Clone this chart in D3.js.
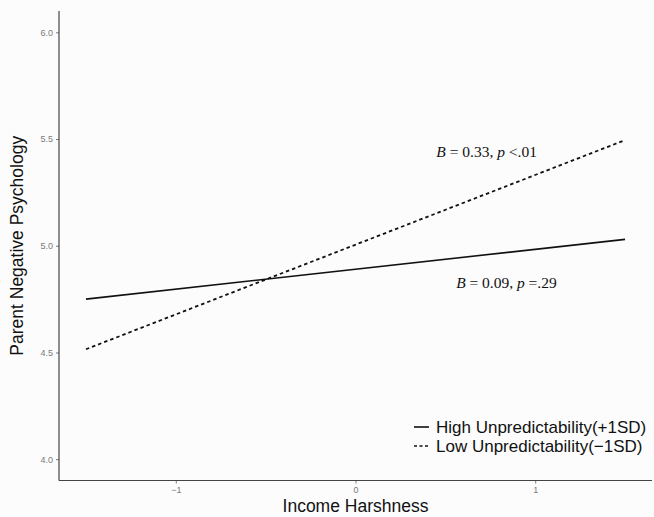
<!DOCTYPE html>
<html>
<head>
<meta charset="utf-8">
<script src="https://cdn.jsdelivr.net/npm/d3@7"></script>
<style>
  body { margin: 0; background: #fcfcfc; }
  svg { display: block; }
  .tick text { fill: #7a7a7a; font-family: "Liberation Sans", Arial, sans-serif; font-size: 9px; }
  .tick line { stroke: #7a7a7a; }
</style>
</head>
<body>
<div id="container"></div>
<script>
// data
var xTicks = [-1, 0, 1];
var yTicks = [4.0, 4.5, 5.0, 5.5, 6.0];
var harshness = [-1.5, 1.5];
var highUnpred = [4.75, 5.03];   // +1SD
var lowUnpred = [4.515, 5.495];  // -1SD
var seriesNames = ["High Unpredictability(+1SD)", "Low Unpredictability(\u22121SD)"];
var notes = [
  {b: "0.33", p: "<.01", x: 0.45, y: 5.415},
  {b: "0.09", p: "=.29", x: 0.56, y: 4.80}
];

var width = 654, height = 517;
var m = {left: 59, right: 652, top: 11, bottom: 480.5};

var svg = d3.select("#container").append("svg")
  .attr("width", width)
  .attr("height", height);

svg.append("rect").attr("width", width).attr("height", height).attr("fill", "#fcfcfc");

var x = d3.scaleLinear().domain([-1.65, 1.65]).range([m.left, m.right]);
var y = d3.scaleLinear().domain([3.9, 6.1]).range([m.bottom, m.top]);

/* axes */
var xAxis = svg.append("g")
  .attr("transform", "translate(0," + m.bottom + ")")
  .call(d3.axisBottom(x).tickValues(xTicks).tickSize(3).tickPadding(3)
    .tickFormat(function(d) { return d < 0 ? "\u2212" + Math.abs(d) : d; }));
var yAxis = svg.append("g")
  .attr("transform", "translate(" + m.left + ",0)")
  .call(d3.axisLeft(y).tickValues(yTicks).tickSize(3).tickPadding(3).tickFormat(d3.format(".1f")));
xAxis.select(".domain").remove();
yAxis.select(".domain").remove();

svg.append("line")
  .attr("x1", m.left).attr("x2", m.right)
  .attr("y1", m.bottom).attr("y2", m.bottom)
  .attr("stroke", "#444").attr("stroke-width", 1.2);
svg.append("line")
  .attr("x1", m.left).attr("x2", m.left)
  .attr("y1", m.top).attr("y2", m.bottom)
  .attr("stroke", "#444").attr("stroke-width", 1.2);

/* lines */
var line = d3.line()
  .x(function(d) { return x(d[0]); })
  .y(function(d) { return y(d[1]); });

svg.append("path")
  .datum(d3.zip(harshness, highUnpred))
  .attr("d", line)
  .attr("fill", "none")
  .attr("stroke", "#111")
  .attr("stroke-width", 1.6);

svg.append("path")
  .datum(d3.zip(harshness, lowUnpred))
  .attr("d", line)
  .attr("fill", "none")
  .attr("stroke", "#111")
  .attr("stroke-width", 1.8)
  .attr("stroke-dasharray", "3.5,3");

/* annotations */
notes.forEach(function(n) {
  var t = svg.append("text")
    .attr("x", x(n.x))
    .attr("y", y(n.y))
    .attr("font-family", "'Liberation Serif', 'Times New Roman', serif")
    .attr("font-size", 15.5)
    .attr("fill", "#111");
  t.append("tspan").attr("font-style", "italic").text("B");
  t.append("tspan").text(" = " + n.b + ", ");
  t.append("tspan").attr("font-style", "italic").text("p");
  t.append("tspan").text(" " + n.p);
});

/* legend */
var legend = svg.append("g").attr("transform", "translate(414,427)");
seriesNames.forEach(function(name, i) {
  var g = legend.append("g").attr("transform", "translate(0," + i * 19 + ")");
  g.append("line")
    .attr("x1", 0).attr("x2", 15)
    .attr("y1", 0).attr("y2", 0)
    .attr("stroke", "#111")
    .attr("stroke-width", 1.6)
    .attr("stroke-dasharray", i == 1 ? "3,2.5" : null);
  g.append("text")
    .attr("x", 22).attr("y", 6)
    .attr("font-family", "'Liberation Sans', Arial, sans-serif")
    .attr("font-size", 17)
    .attr("fill", "#111")
    .text(name);
});

/* axis titles */
svg.append("text")
  .attr("x", (m.left + m.right) / 2)
  .attr("y", 512)
  .attr("text-anchor", "middle")
  .attr("font-family", "'Liberation Sans', Arial, sans-serif")
  .attr("font-size", 17.5)
  .attr("fill", "#111")
  .text("Income Harshness");

svg.append("text")
  .attr("transform", "translate(23," + (m.top + m.bottom) / 2 + ") rotate(-90)")
  .attr("text-anchor", "middle")
  .attr("font-family", "'Liberation Sans', Arial, sans-serif")
  .attr("font-size", 17.5)
  .attr("fill", "#111")
  .text("Parent Negative Psychology");
</script>
</body>
</html>
